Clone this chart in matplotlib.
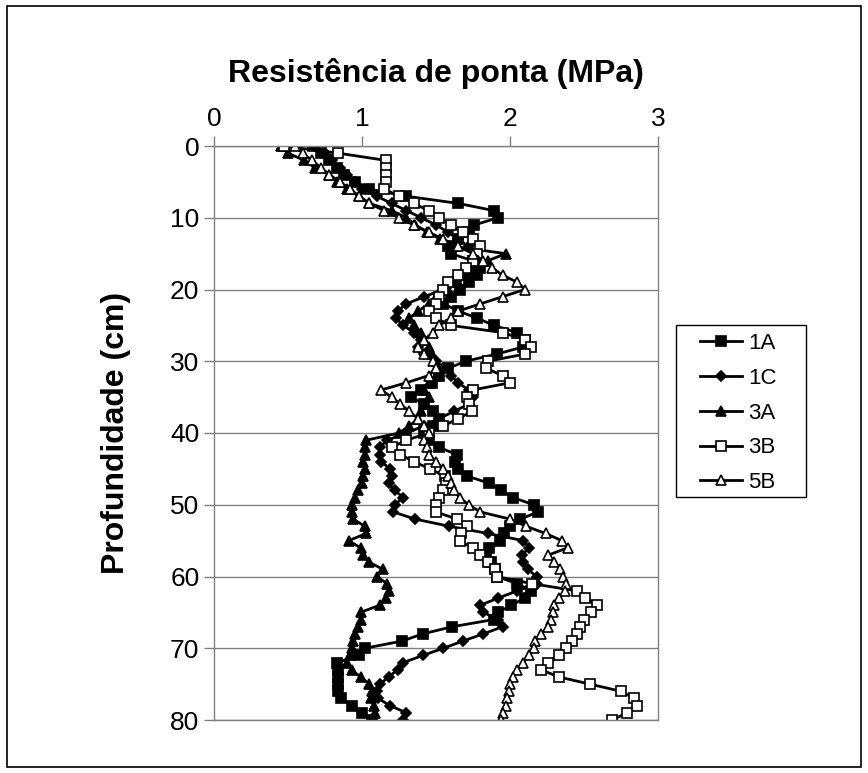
import numpy as np
import matplotlib
matplotlib.use("Agg")
import matplotlib.pyplot as plt
from matplotlib.patches import Rectangle

plt.rcParams['font.family'] = ['Liberation Sans', 'DejaVu Sans']

# depth (cm), one reading per cm
depth = list(range(0, 81))

# tip resistance (MPa), one value per depth
r_1A = [0.67, 0.72, 0.78, 0.83, 0.88, 0.95, 1.05, 1.30, 1.65, 1.89,
        1.92, 1.76, 1.72, 1.65, 1.58, 1.60, 1.75, 1.80, 1.78, 1.72,
        1.66, 1.60, 1.55, 1.65, 1.78, 1.89, 2.05, 2.10, 2.09, 1.91,
        1.70, 1.58, 1.52, 1.47, 1.40, 1.33, 1.42, 1.48, 1.52, 1.48,
        1.42, 1.45, 1.52, 1.64, 1.63, 1.65, 1.71, 1.86, 1.94, 2.02,
        2.16, 2.19, 2.07, 2.00, 1.96, 1.93, 1.86, 1.84, 1.87, 1.90,
        1.91, 2.05, 2.14, 2.10, 2.01, 1.92, 1.89, 1.61, 1.41, 1.27,
        1.02, 0.98, 0.83, 0.84, 0.84, 0.84, 0.84, 0.86, 0.93, 1.00,
        1.07]
r_1C = [0.68, 0.75, 0.80, 0.85, 0.90, 0.95, 1.00, 1.10, 1.20, 1.30,
        1.40, 1.50, 1.58, 1.65, 1.72, 1.78, 1.80, 1.75, 1.70, 1.62,
        1.55, 1.42, 1.30, 1.24, 1.23, 1.28, 1.35, 1.40, 1.38, 1.42,
        1.50, 1.55, 1.60, 1.65, 1.72, 1.75, 1.72, 1.62, 1.52, 1.42,
        1.30, 1.17, 1.12, 1.12, 1.13, 1.19, 1.20, 1.18, 1.22, 1.28,
        1.22, 1.21, 1.36, 1.59, 1.85, 2.09, 2.13, 2.08, 2.09, 2.12,
        2.18, 2.18, 2.05, 1.92, 1.80, 1.82, 1.92, 1.95, 1.82, 1.68,
        1.55, 1.41, 1.28, 1.24, 1.18, 1.12, 1.10, 1.11, 1.19, 1.30,
        1.28]
r_3A = [0.45, 0.50, 0.61, 0.68, 0.78, 0.83, 0.90, 0.98, 1.05, 1.20,
        1.30, 1.36, 1.44, 1.53, 1.62, 1.97, 1.85, 1.78, 1.72, 1.65,
        1.58, 1.50, 1.45, 1.38, 1.32, 1.35, 1.40, 1.42, 1.45, 1.47,
        1.50, 1.52, 1.50, 1.45, 1.42, 1.45, 1.42, 1.40, 1.38, 1.32,
        1.25, 1.03, 1.02, 1.02, 1.01, 1.02, 1.01, 1.00, 0.97, 0.95,
        0.93, 0.93, 0.94, 1.02, 1.03, 0.91, 0.99, 1.01, 1.05, 1.14,
        1.10, 1.17, 1.18, 1.16, 1.12, 0.99, 0.99, 0.97, 0.95, 0.94,
        0.93, 0.92, 0.90, 0.93, 0.99, 1.05, 1.07, 1.06, 1.08, 1.09,
        1.07]
r_3B = [0.47, 0.84, 1.16, 1.16, 1.16, 1.16, 1.15, 1.25, 1.35, 1.45,
        1.52, 1.60, 1.68, 1.75, 1.80, 1.78, 1.75, 1.70, 1.65, 1.58,
        1.55, 1.52, 1.50, 1.45, 1.50, 1.60, 1.95, 2.10, 2.14, 2.10,
        1.85, 1.84, 1.95, 2.00, 1.75, 1.71, 1.72, 1.74, 1.65, 1.55,
        1.45, 1.30, 1.20, 1.26, 1.35, 1.46, 1.56, 1.57, 1.55, 1.52,
        1.50, 1.50, 1.64, 1.71, 1.67, 1.66, 1.75, 1.80, 1.85, 1.90,
        1.91, 2.15, 2.45, 2.51, 2.59, 2.55, 2.50, 2.47, 2.45, 2.42,
        2.38, 2.33, 2.26, 2.21, 2.33, 2.54, 2.75, 2.84, 2.86, 2.79,
        2.69]
r_5B = [0.55, 0.60, 0.66, 0.72, 0.78, 0.85, 0.92, 0.98, 1.05, 1.15,
        1.25, 1.35, 1.45, 1.55, 1.65, 1.75, 1.82, 1.88, 1.95, 2.05,
        2.10, 1.95, 1.80, 1.65, 1.60, 1.52, 1.48, 1.42, 1.38, 1.42,
        1.48, 1.50, 1.45, 1.30, 1.13, 1.20, 1.26, 1.32, 1.38, 1.42,
        1.45, 1.42, 1.44, 1.45, 1.50, 1.55, 1.58, 1.60, 1.62, 1.66,
        1.72, 1.80, 2.00, 2.11, 2.24, 2.35, 2.39, 2.26, 2.30, 2.34,
        2.36, 2.38, 2.37, 2.33, 2.30, 2.29, 2.28, 2.26, 2.21, 2.17,
        2.16, 2.13, 2.09, 2.05, 2.02, 2.00, 1.99, 1.98, 1.97, 1.95,
        1.94]

series_names = ['1A', '1C', '3A', '3B', '5B']
series_vals = [r_1A, r_1C, r_3A, r_3B, r_5B]
markers = ['s', 'D', '^', 's', '^']
faces = ['black', 'black', 'black', 'white', 'white']
msizes = [6.5, 5.5, 7, 6.5, 7]

fig = plt.figure(figsize=(8.68, 7.73), dpi=100)
fig.patches.append(Rectangle((0.008, 0.008), 0.984, 0.984, transform=fig.transFigure,
                             fill=False, edgecolor='black', linewidth=1.2))

ax = fig.add_axes([214 / 868, 1 - 720 / 773, 444 / 868, 574 / 773])

for name, vals, mk, fc, ms in zip(series_names, series_vals, markers, faces, msizes):
    ax.plot(vals, depth, color='black', linewidth=2, marker=mk, markersize=ms,
            markerfacecolor=fc, markeredgecolor='black', markeredgewidth=1.2, label=name)

ax.set_xlim(0, 3)
ax.set_ylim(80, 0)
ax.set_xticks([0, 1, 2, 3])
ax.set_yticks(range(0, 81, 10))
ax.xaxis.tick_top()
ax.xaxis.set_label_position('top')
ax.tick_params(axis='both', labelsize=19, direction='out', length=7, width=1, color='#808080')
ax.tick_params(axis='x', pad=4)
ax.yaxis.grid(True, color='#808080', linewidth=1)
ax.set_axisbelow(True)
for sp in ax.spines.values():
    sp.set_color('#808080')
    sp.set_linewidth(1)

ax.set_xlabel('Resistência de ponta (MPa)', fontsize=23, fontweight='bold', labelpad=18)
ax.set_ylabel('Profundidade (cm)', fontsize=23, fontweight='bold', labelpad=28)

# legend box drawn separately so its padding can match the original
fig.patches.append(Rectangle((676 / 868, 1 - 497 / 773), 130 / 868, 172 / 773, transform=fig.transFigure,
                             fill=True, facecolor='white', edgecolor='black', linewidth=1, zorder=4))
handles, labels = ax.get_legend_handles_labels()
leg = fig.legend(handles, labels, loc='upper left', bbox_to_anchor=(700 / 868, 1 - 333 / 773),
                 bbox_transform=fig.transFigure, fontsize=16, frameon=False, borderaxespad=0,
                 borderpad=0, handlelength=1.9, labelspacing=0.62, handletextpad=0.25)
leg.set_zorder(6)

fig.savefig('out.png', dpi=100)
